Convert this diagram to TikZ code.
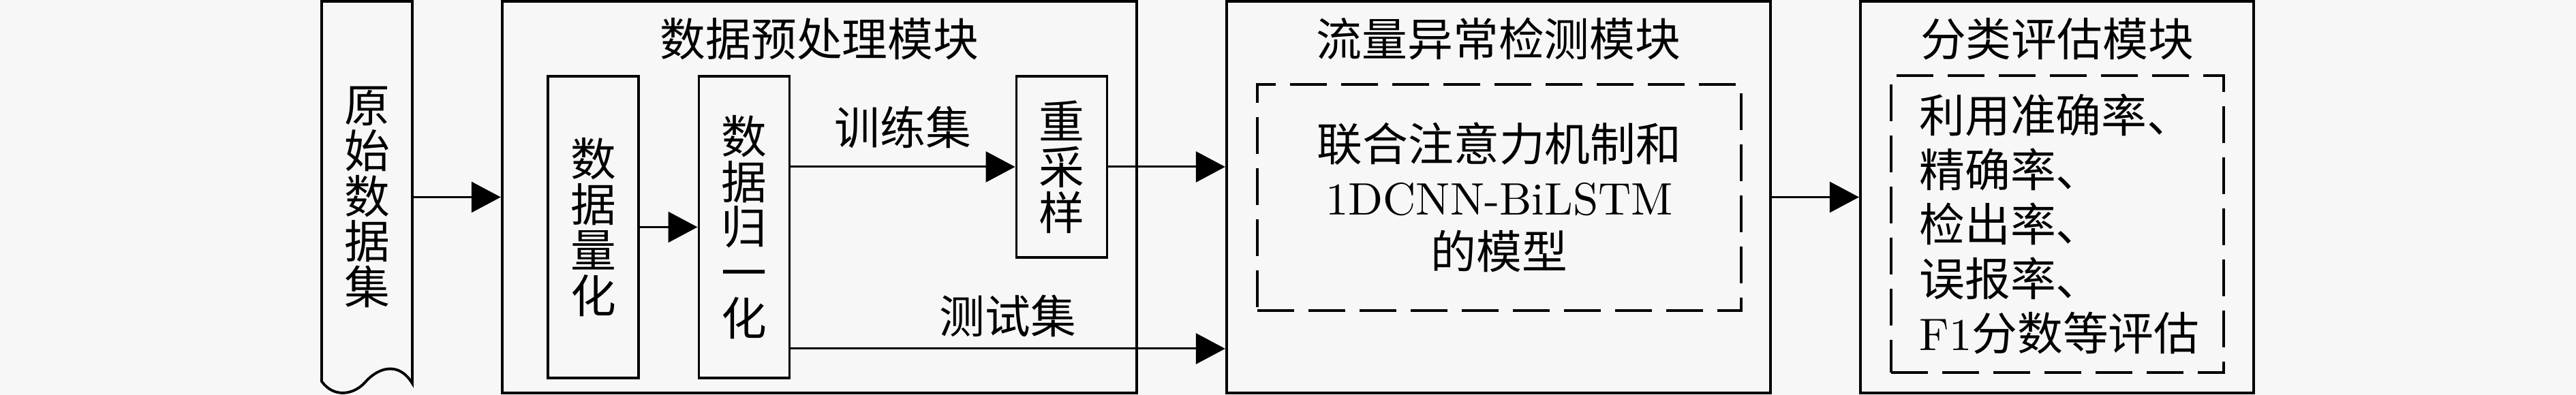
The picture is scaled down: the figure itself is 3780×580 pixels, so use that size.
\documentclass[tikz,border=0pt]{standalone}
\usepackage{fontspec}
\usepackage{tikz}
\usetikzlibrary{arrows.meta}
\newfontfamily\cjk{Noto Sans CJK SC}
\newfontfamily\lmten{lmroman10-regular.otf}
\definecolor{bgc}{RGB}{247,247,247}

\begin{document}
\begin{tikzpicture}[x=0.01cm,y=-0.01cm,
    font=\fontsize{19}{19}\selectfont\cjk,
    blk/.style={draw,line width=1.1pt,minimum height=5.75cm,inner sep=0pt},
    cell/.style={draw,line width=1.1pt,minimum width=1.33cm,inner sep=0pt,align=center},
    dbox/.style={draw,line width=1.1pt,dash pattern=on 0.54cm off 0.21cm,inner sep=0pt},
    arr/.style={line width=0.85pt,-{Triangle[length=0.43cm,width=0.45cm]}}]
        \fill[bgc] (0,0) rectangle (3780,580);
        \useasboundingbox (0,0) rectangle (3780,580);

        \coordinate (r) at (538.5,289.5);
        \coordinate (p) at (1202.5,289.5);
        \coordinate (d) at (2199,289.5);
        \coordinate (e) at (3018.5,289.5);
        \coordinate (testy) at (0,512);

        % raw data (tape with a wavy bottom)
        \draw[line width=1.1pt] (472,560) -- (472,2) -- (605,2) -- (605,563)
            .. controls (585,530) and (555,540) .. (537,560)
            .. controls (520,580) and (490,585) .. (472,560) -- cycle;
        \node[minimum width=1.33cm,minimum height=5.75cm,inner sep=0pt,align=center] (raw) at (r){原\\始\\数\\据\\集};

        % three modules
        \node[blk,minimum width=9.31cm] (prep) at (p){};
        \node[blk,minimum width=7.98cm] (detect) at (d){};
        \node[blk,minimum width=5.77cm] (eval) at (e){};
        \node (preptitle) at (1202.5,57){数据预处理模块};
        \node (detecttitle) at (2199,57){流量异常检测模块};
        \node (evaltitle) at (3018.5,57){分类评估模块};

        \node[cell,minimum height=4.43cm] (quant) at (870.5,333.5){数\\据\\量\\化};
        \node[cell,minimum height=4.43cm] (norm) at (1092,333.5){数\\据\\归\\一\\化};
        \node[cell,minimum height=2.66cm] (resample) at (1558,245){重\\采\\样};

        \node[dbox,minimum width=7.10cm,minimum height=3.32cm,align=center,
              font=\fontsize{19}{22.5}\selectfont\cjk] (model) at (2200,290)
              {联合注意力机制和\\{\lmten 1DCNN-BiLSTM}\\的模型};
        \node[dbox,minimum width=4.88cm,minimum height=4.36cm,text width=4.05cm,align=left,
              font=\fontsize{19}{22.7}\selectfont\cjk] (metric) at (3019,329)
              {利用准确率、\\精确率、\\检出率、\\误报率、\\{\lmten F1}分数等评估};

        \draw[arr] (raw.east) -- (prep.west);
        \draw[arr] (quant.east) -- (norm.west);
        \draw[arr] (norm.east |- resample.west) -- node[above=4pt]{训练集} (resample.west);
        \draw[arr] (resample.east) -- (detect.west |- resample.east);
        \draw[arr] (norm.east |- testy) -- node[above=1pt]{测试集} (detect.west |- testy);
        \draw[arr] (detect.east) -- (eval.west);
    \end{tikzpicture}
\end{document}
